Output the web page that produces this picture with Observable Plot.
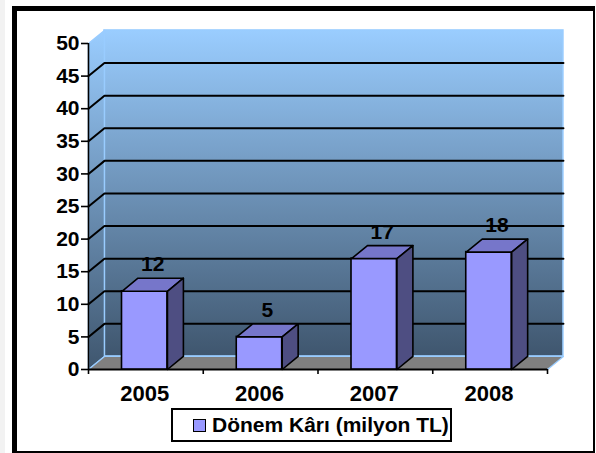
<!DOCTYPE html>
<html><head><meta charset="utf-8">
<script src="https://cdn.jsdelivr.net/npm/d3@7"></script>
<script src="https://cdn.jsdelivr.net/npm/@observablehq/plot@0.6"></script>
<style>
html,body{margin:0;padding:0;background:#fff;}
#wrap{position:relative;width:596px;height:453px;overflow:hidden;font-family:"Liberation Sans",Arial,sans-serif;background:#fff;}
#edge{position:absolute;left:0;top:0;width:5px;height:453px;background:#f2f2f2;}
#frame{position:absolute;left:12px;top:6px;width:583px;height:447px;box-sizing:border-box;border-left:5px solid #000;border-top:5px solid #000;border-right:2px solid #000;border-bottom:2px solid #000;}
#chart{position:absolute;left:0;top:0;}
#legend{position:absolute;left:171px;top:408px;width:281px;height:34px;box-sizing:border-box;border:2px solid #000;background:#fff;display:flex;align-items:center;justify-content:flex-start;padding-left:20px;font-weight:bold;font-size:21px;color:#000;white-space:nowrap;}
#legend .sw{width:11px;height:11px;border:1px solid #000;background:#9999FF;margin-right:6px;flex:none;}
</style>
</head><body>
<div id="wrap">
  <div id="edge"></div>
  <div id="frame"></div>
  <div id="chart"></div>
  <div id="legend"></div>
</div>
<script>
// ---- data ----
const years = ["2005", "2006", "2007", "2008"];
const profits = [12, 5, 17, 18];
const yTicks = [0, 5, 10, 15, 20, 25, 30, 35, 40, 45, 50];
const gridValues = [5, 10, 15, 20, 25, 30, 35, 40, 45];
const seriesName = "Dönem Kârı (milyon TL)";

// ---- 3D geometry in data units ----
const N = years.length;
const YMAX = 50;
const DX = 0.139;   // depth offset along x (category units)
const DY = 2.0;     // depth offset along y (value units)
const C = 0.49, HW = 0.198; // bar centre within band, half width

const poly = (id, pts) => pts.map(([x, y]) => ({id, x, y}));

const sideWall = poly("side", [[0, 0], [0, YMAX], [DX, YMAX + DY], [DX, DY]]);
const floor = poly("floor", [[0, 0], [N, 0], [N + DX, DY], [DX, DY]]);
const backWall = [{x1: DX, x2: N + DX, y1: DY, y2: YMAX + DY}];
const grid = gridValues.flatMap(v => poly("g" + v, [[0, v], [DX, v + DY], [N + DX, v + DY]]));

const bars = profits.map((v, i) => ({i, v, a: i + C - HW, b: i + C + HW}));
const tops = bars.flatMap(d => poly("t" + d.i, [[d.a, d.v], [d.b, d.v], [d.b + DX, d.v + DY], [d.a + DX, d.v + DY]]));
const sides = bars.flatMap(d => poly("s" + d.i, [[d.b, 0], [d.b, d.v], [d.b + DX, d.v + DY], [d.b + DX, DY]]));

const defs = () => {
  const g = d3.create("svg:defs");
  const lg = g.append("linearGradient").attr("id", "wallGrad").attr("x1", 0).attr("y1", 0).attr("x2", 0).attr("y2", 1);
  lg.append("stop").attr("offset", "0%").attr("stop-color", "#9ACDFF");
  lg.append("stop").attr("offset", "100%").attr("stop-color", "#3F566E");
  return g.node();
};

const chart = Plot.plot({
  width: 596, height: 453,
  marginLeft: 88, marginRight: 49, marginTop: 43, marginBottom: 84,
  x: {type: "linear", domain: [0, N]},
  y: {domain: [0, YMAX]},
  style: {background: "transparent", fontFamily: "'Liberation Sans', Arial, sans-serif", fontSize: "20px", fontWeight: "bold", color: "#000", overflow: "visible"},
  marks: [
    defs,
    Plot.rect(backWall, {x1: "x1", x2: "x2", y1: "y1", y2: "y2", fill: "url(#wallGrad)", stroke: "#99CCFF", strokeWidth: 1.5}),
    Plot.line(sideWall, {x: "x", y: "y", z: "id", curve: "linear-closed", fill: "url(#wallGrad)", stroke: "#99CCFF", strokeWidth: 1.5}),
    Plot.line(floor, {x: "x", y: "y", z: "id", curve: "linear-closed", fill: "#808080", stroke: "#99CCFF", strokeWidth: 1.2}),
    Plot.line(grid, {x: "x", y: "y", z: "id", stroke: "#000", strokeWidth: 2}),
    Plot.ruleX([0], {y1: 0, y2: YMAX, stroke: "#000", strokeWidth: 1.6}),
    Plot.ruleY([0], {x1: 0, x2: N, stroke: "#000", strokeWidth: 1.8}),
    Plot.axisY(yTicks, {tickSize: 7, tickPadding: 2, stroke: "#000", strokeWidth: 1.6, fontSize: 21, fontWeight: "bold", tickFormat: d => String(d)}),
    Plot.axisX(d3.range(N + 1), {tickSize: 5, tickFormat: () => "", stroke: "#000", strokeWidth: 1.6}),
    Plot.axisX(years.map((y, i) => i + C), {tickSize: 0, tickPadding: 16, fontSize: 22, fontWeight: "bold", tickFormat: d => years[Math.floor(d)]}),
    Plot.rect(bars, {x1: "a", x2: "b", y1: 0, y2: "v", fill: "#9999FF", stroke: "#000", strokeWidth: 1.6}),
    Plot.line(tops, {x: "x", y: "y", z: "id", curve: "linear-closed", fill: "#7676CA", stroke: "#000", strokeWidth: 1.6, strokeLinejoin: "round"}),
    Plot.line(sides, {x: "x", y: "y", z: "id", curve: "linear-closed", fill: "#4E4E82", stroke: "#000", strokeWidth: 1.6, strokeLinejoin: "round"}),
    Plot.text(bars, {x: d => d.i + C + DX / 2, y: d => d.v + DY, text: d => String(d.v), dy: -7, lineAnchor: "bottom", fontSize: 21, fontWeight: "bold", fill: "#000"})
  ]
});
document.getElementById("chart").appendChild(chart);

const legend = document.getElementById("legend");
const sw = document.createElement("span"); sw.className = "sw";
const lt = document.createElement("span"); lt.textContent = seriesName;
legend.appendChild(sw); legend.appendChild(lt);
</script>
</body></html>
